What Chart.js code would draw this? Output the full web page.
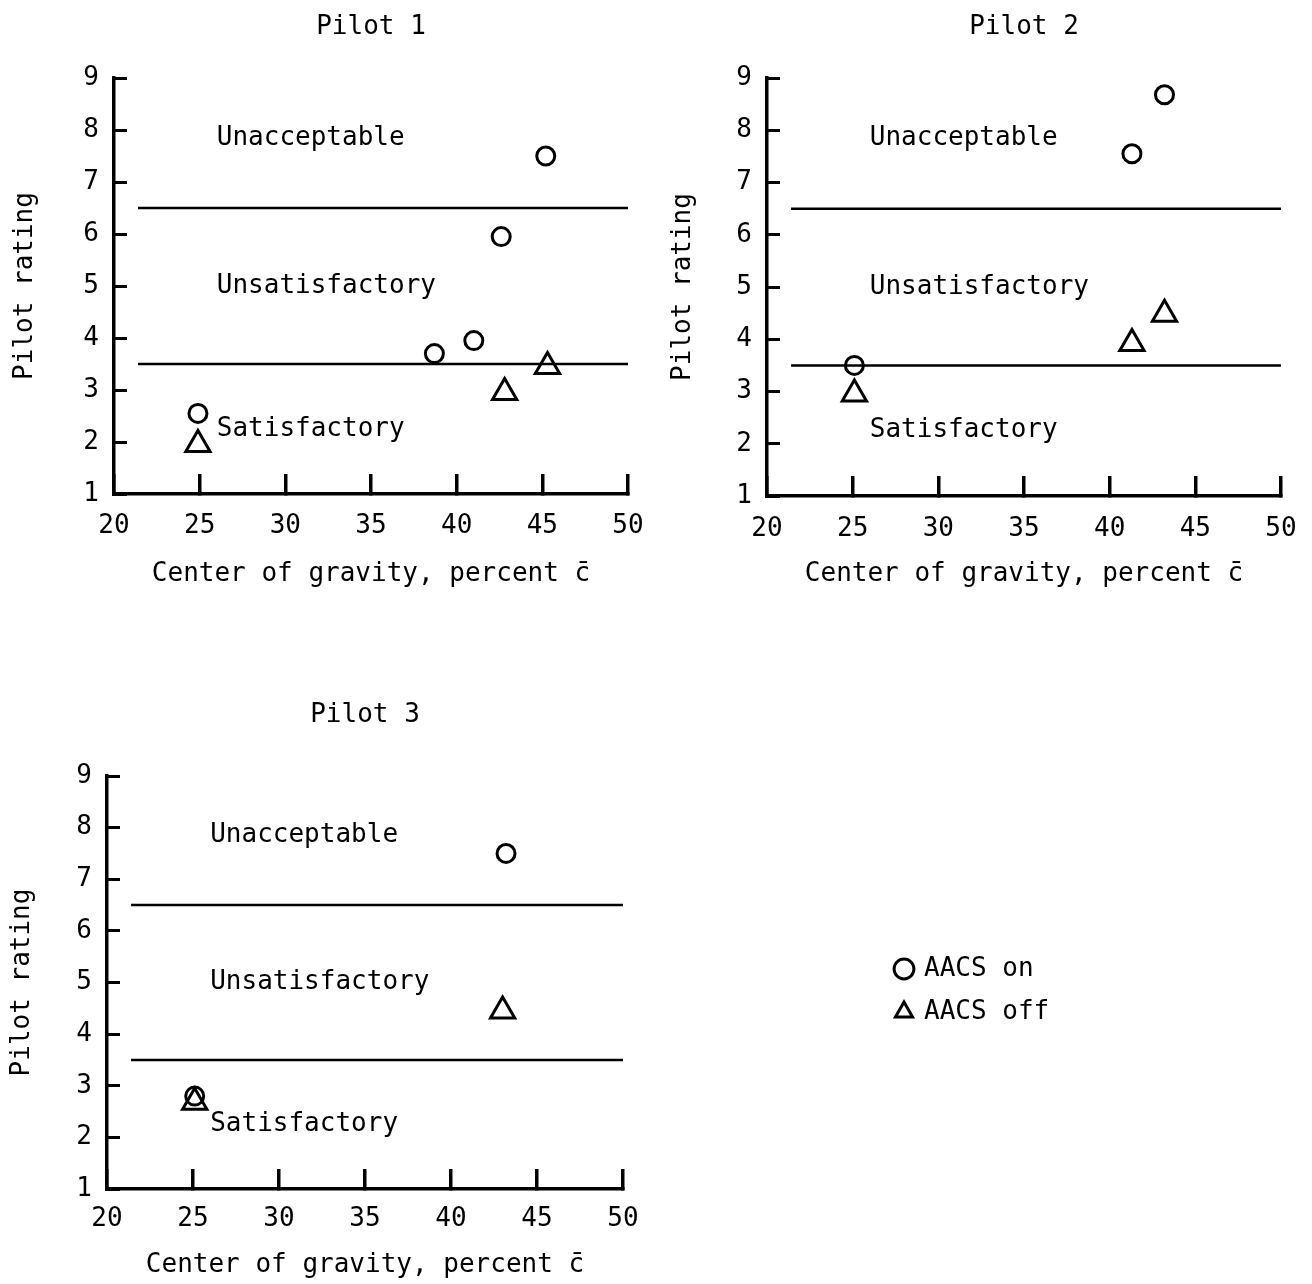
<!DOCTYPE html>
<html>
<head>
<meta charset="utf-8">
<title>Pilot rating vs center of gravity</title>
<script src="https://cdn.jsdelivr.net/npm/chart.js@4.4.1/dist/chart.umd.min.js"></script>
<style>
    body { margin: 0; background: #fff; overflow: hidden; }
    #page { position: relative; width: 1312px; height: 1284px; background: #fff; overflow: hidden; }
    #page canvas { position: absolute; }
</style>
</head>
<body>
<div id="page">
    <canvas id="pilot1" width="683" height="610" style="left:0;top:0"></canvas>
    <canvas id="pilot2" width="680" height="610" style="left:656px;top:0"></canvas>
    <canvas id="pilot3" width="678" height="628" style="left:0;top:656px"></canvas>
    <canvas id="legend" width="420" height="110" style="left:880px;top:939px"></canvas>
</div>
<script>
// ========================================
// DATA
// ========================================

const cgTicks = [20, 25, 30, 35, 40, 45, 50];
const ratingTicks = [1, 2, 3, 4, 5, 6, 7, 8, 9];
const boundaryRatings = [3.5, 6.5];
const boundaryCg = [21.4, 50];
const regionNames = ['Unacceptable', 'Unsatisfactory', 'Satisfactory'];
const regionRatings = [7.85, 5.0, 2.25];
const regionCg = 26;
const seriesNames = ['AACS on', 'AACS off'];

// Pilot 1
const pilot1OnCg = [24.9, 38.7, 41.0, 42.6, 45.2];
const pilot1OnRating = [2.55, 3.7, 3.95, 5.95, 7.5];
const pilot1OffCg = [24.9, 42.8, 45.3];
const pilot1OffRating = [1.95, 2.95, 3.45];

// Pilot 2
const pilot2OnCg = [25.1, 41.3, 43.2];
const pilot2OnRating = [3.5, 7.55, 8.68];
const pilot2OffCg = [25.1, 41.3, 43.2];
const pilot2OffRating = [2.95, 3.92, 4.48];

// Pilot 3
const pilot3OnCg = [25.1, 43.2];
const pilot3OnRating = [2.8, 7.5];
const pilot3OffCg = [25.1, 43.0];
const pilot3OffRating = [2.68, 4.45];

// ========================================
// STYLE
// ========================================

Chart.defaults.font.family = '"DejaVu Sans Mono", monospace';
Chart.defaults.font.size = 26;
Chart.defaults.color = '#000';

const circleStyle = {
    pointStyle: 'circle',
    pointRadius: 9,
    borderWidth: 3,
    borderColor: '#000',
    backgroundColor: 'rgba(0,0,0,0)',
    showLine: false
};

const triangleStyle = {
    pointStyle: 'triangle',
    pointRadius: 14,
    borderWidth: 3,
    borderColor: '#000',
    backgroundColor: 'rgba(0,0,0,0)',
    showLine: false
};

// Region names written inside the plot at data coordinates
const regionLabelPlugin = {
    id: 'regionLabels',
    afterDatasetsDraw(chart, args, opts) {
        const { ctx, scales: { x, y } } = chart;
        ctx.save();
        ctx.font = '26px "DejaVu Sans Mono", monospace';
        ctx.fillStyle = '#000';
        ctx.textAlign = 'left';
        ctx.textBaseline = 'middle';
        opts.names.forEach((name, i) => {
            ctx.fillText(name, x.getPixelForValue(opts.cg), y.getPixelForValue(opts.ratings[i]));
        });
        ctx.restore();
    }
};

const toPoints = (xs, ys) => xs.map((x, i) => ({ x, y: ys[i] }));

// Build one panel
const makePanel = (canvasId, title, onCg, onRating, offCg, offRating, box) => {
    const boundaryDatasets = boundaryRatings.map(r => ({
        type: 'line',
        data: boundaryCg.map(x => ({ x, y: r })),
        borderColor: '#000',
        borderWidth: 2.5,
        pointRadius: 0,
        fill: false
    }));

    return new Chart(document.getElementById(canvasId), {
        type: 'scatter',
        data: {
            datasets: [
                { label: seriesNames[0], data: toPoints(onCg, onRating), ...circleStyle },
                { label: seriesNames[1], data: toPoints(offCg, offRating), ...triangleStyle },
                ...boundaryDatasets
            ]
        },
        options: {
            responsive: false,
            animation: false,
            events: [],
            layout: { padding: { left: 0, right: 55, top: 0, bottom: 0 } },
            plugins: {
                legend: { display: false },
                tooltip: { enabled: false },
                title: {
                    display: true,
                    text: title,
                    fullSize: false,
                    color: '#000',
                    font: { size: 26, weight: 'normal' },
                    padding: { top: box.titleTop, bottom: box.titleBottom }
                },
                regionLabels: { names: regionNames, ratings: regionRatings, cg: regionCg }
            },
            scales: {
                x: {
                    type: 'linear',
                    position: 'bottom',
                    min: 20,
                    max: 50,
                    afterBuildTicks: scale => { scale.ticks = cgTicks.map(value => ({ value })); },
                    afterFit: scale => { scale.height = box.xHeight; },
                    border: { display: true, color: '#000', width: 3.5 },
                    grid: { drawOnChartArea: false, drawTicks: true, tickLength: -20, color: '#000', lineWidth: 3.5 },
                    ticks: { padding: box.xTickPad, color: '#000', autoSkip: false, maxRotation: 0 },
                    title: {
                        display: true,
                        text: 'Center of gravity, percent c\u0304',
                        color: '#000',
                        padding: { top: 0, bottom: box.xTitleBottom }
                    }
                },
                y: {
                    type: 'linear',
                    position: 'left',
                    min: 1,
                    max: 9,
                    afterBuildTicks: scale => { scale.ticks = ratingTicks.map(value => ({ value })); },
                    afterFit: scale => { scale.width = box.yWidth; },
                    border: { display: true, color: '#000', width: 3.5 },
                    grid: { drawOnChartArea: false, drawTicks: true, tickLength: -13, color: '#000', lineWidth: 3 },
                    ticks: { padding: 28, color: '#000', autoSkip: false },
                    title: {
                        display: true,
                        text: 'Pilot rating',
                        color: '#000',
                        padding: { top: box.yTitleTop, bottom: 0 }
                    }
                }
            }
        },
        plugins: [regionLabelPlugin]
    });
};

makePanel('pilot1', 'Pilot 1', pilot1OnCg, pilot1OnRating, pilot1OffCg, pilot1OffRating, {
    titleTop: 11.4, titleBottom: 35.4, xHeight: 116, xTickPad: 37,
    xTitleBottom: 20.4, yWidth: 114, yTitleTop: 9.4
});

makePanel('pilot2', 'Pilot 2', pilot2OnCg, pilot2OnRating, pilot2OffCg, pilot2OffRating, {
    titleTop: 11.4, titleBottom: 35.4, xHeight: 114, xTickPad: 38,
    xTitleBottom: 20.4, yWidth: 111, yTitleTop: 11.4
});

makePanel('pilot3', 'Pilot 3', pilot3OnCg, pilot3OnRating, pilot3OffCg, pilot3OffRating, {
    titleTop: 43.4, titleBottom: 45.4, xHeight: 95, xTickPad: 35,
    xTitleBottom: 3.4, yWidth: 107, yTitleTop: 6.4
});

// Legend
new Chart(document.getElementById('legend'), {
    type: 'scatter',
    data: {
        datasets: [
            { label: seriesNames[0], data: [], ...circleStyle },
            { label: seriesNames[1], data: [], ...triangleStyle }
        ]
    },
    options: {
        responsive: false,
        animation: false,
        events: [],
        scales: { x: { display: false }, y: { display: false } },
        plugins: {
            tooltip: { enabled: false },
            legend: {
                display: true,
                position: 'left',
                align: 'start',
                labels: {
                    usePointStyle: true,
                    boxWidth: 14,
                    boxHeight: 14,
                    padding: 17,
                    color: '#000',
                    font: { size: 26 }
                }
            }
        }
    }
});
</script>
</body>
</html>
